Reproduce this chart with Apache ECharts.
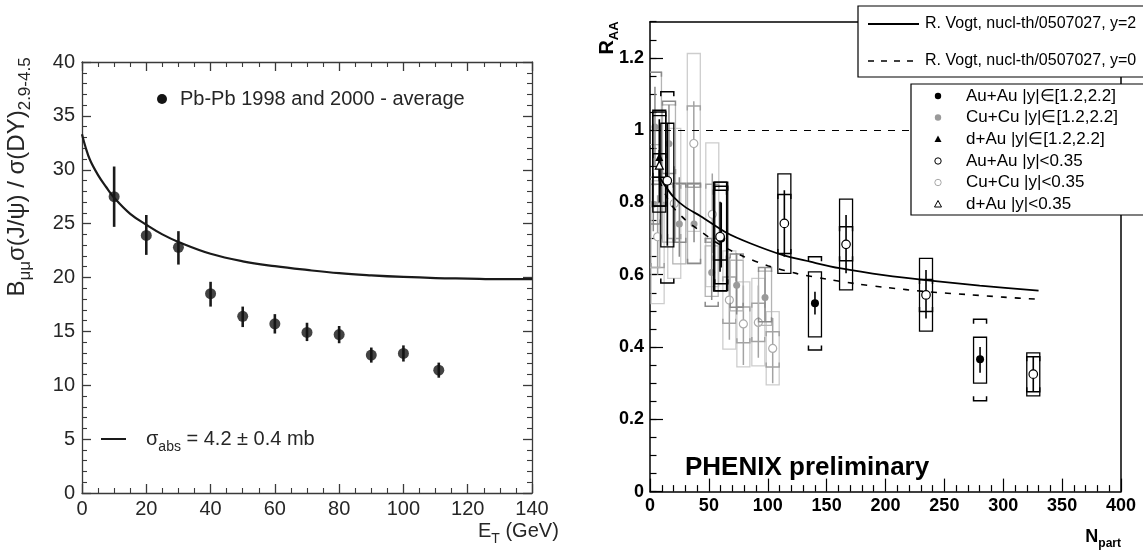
<!DOCTYPE html>
<html>
<head>
<meta charset="utf-8">
<script src="https://cdn.jsdelivr.net/npm/echarts@6/dist/echarts.min.js"></script>
<style>
  html, body { margin: 0; padding: 0; background: #fff; }
  #left { position: absolute; left: 0; top: 0; width: 570px; height: 552px; filter: blur(0.45px); }
  #right { position: absolute; left: 570px; top: 0; width: 573px; height: 552px; }
</style>
</head>
<body>
<div id="left"></div>
<div id="right"></div>
<script>
// ---------- Left panel: NA50 J/psi / Drell-Yan vs transverse energy ----------
const etBins      = [10, 20, 30, 40, 50, 60, 70, 80, 90, 100, 111];
const jpsiOverDY  = [27.5, 23.9, 22.8, 18.5, 16.4, 15.7, 14.9, 14.7, 12.8, 12.95, 11.4];
const jpsiErrLo   = [24.7, 22.1, 21.2, 17.3, 15.4, 14.8, 14.1, 13.9, 12.1, 12.2, 10.7];
const jpsiErrHi   = [30.3, 25.8, 24.3, 19.6, 17.3, 16.6, 15.8, 15.5, 13.5, 13.7, 12.1];

// nuclear absorption curve, sigma_abs = 4.2 mb
const absorptionEt  = [0, 1, 2.5, 5, 7.5, 10, 15, 20, 25, 30, 40, 50, 60, 70, 80, 90, 100, 110, 120, 130, 140];
const absorptionVal = [33.3, 32.2, 30.9, 29.5, 28.4, 27.4, 25.9, 24.9, 24.0, 23.3, 22.2, 21.5, 21.05, 20.7, 20.4, 20.2, 20.05, 19.95, 19.9, 19.85, 19.85];

// ---------- Right panel: PHENIX R_AA vs N_part ----------
// Au+Au |y| in [1.2,2.2]
const auFwdN      = [60.5, 140.1, 280.3];
const auFwdR      = [0.70, 0.521, 0.366];
const auFwdStatLo = [0.62, 0.490, 0.329];
const auFwdStatHi = [0.80, 0.553, 0.400];
const auFwdSysLo  = [0.575, 0.392, 0.251];
const auFwdSysHi  = [0.845, 0.650, 0.477];
const auFwdBoxLo  = [0.556, 0.428, 0.300];
const auFwdBoxHi  = [0.856, 0.608, 0.427];

// Au+Au |y| < 0.35
const auMidN      = [14.7, 59.5, 114.1, 166.5, 234.4, 325.5];
const auMidR      = [0.86, 0.705, 0.742, 0.684, 0.544, 0.325];
const auMidStatLo = [0.68, 0.608, 0.650, 0.604, 0.479, 0.276];
const auMidStatHi = [1.02, 0.802, 0.834, 0.765, 0.613, 0.373];
const auMidSysLo  = [0.577, 0.641, 0.659, 0.639, 0.498, 0.276];
const auMidSysHi  = [1.106, 0.834, 0.822, 0.733, 0.587, 0.373];
const auMidBoxLo  = [0.677, 0.555, 0.604, 0.558, 0.444, 0.265];
const auMidBoxHi  = [1.019, 0.856, 0.879, 0.809, 0.645, 0.384];

// Cu+Cu |y| in [1.2,2.2]
const cuFwdN      = [2.8, 4.2, 16.1, 24.9, 37.4, 52.4, 73.6, 97.7];
const cuFwdR      = [0.795, 1.009, 0.962, 0.740, 0.740, 0.606, 0.571, 0.537];
const cuFwdStatLo = [0.72, 0.90, 0.86, 0.65, 0.69, 0.53, 0.49, 0.47];
const cuFwdStatHi = [0.87, 1.12, 1.07, 0.87, 0.85, 0.70, 0.66, 0.62];
const cuFwdSysLo  = [0.74, 0.87, 0.88, 0.69, 0.632, 0.513, 0.51, 0.47];
const cuFwdSysHi  = [0.85, 1.16, 1.08, 0.853, 0.853, 0.70, 0.657, 0.62];
const cuFwdBoxLo  = [0.62, 0.79, 0.69, 0.63, 0.63, 0.54, 0.50, 0.46];
const cuFwdBoxHi  = [0.96, 1.16, 1.07, 0.85, 0.85, 0.68, 0.64, 0.61];

// Cu+Cu |y| < 0.35
const cuMidN      = [6.5, 20.6, 37.2, 52.9, 67.4, 79.3, 92.0, 104.2];
const cuMidR      = [0.705, 0.797, 0.963, 0.767, 0.530, 0.464, 0.468, 0.396];
const cuMidStatLo = [0.60, 0.69, 0.84, 0.66, 0.42, 0.35, 0.37, 0.30];
const cuMidStatHi = [0.82, 0.90, 1.08, 0.88, 0.65, 0.57, 0.57, 0.48];
const cuMidSysLo  = [0.62, 0.70, 0.842, 0.69, 0.466, 0.412, 0.415, 0.345];
const cuMidSysHi  = [0.80, 0.85, 1.067, 0.85, 0.594, 0.511, 0.521, 0.442];
const cuMidBoxLo  = [0.52, 0.59, 0.72, 0.567, 0.394, 0.345, 0.348, 0.295];
const cuMidBoxHi  = [0.86, 1.005, 1.212, 0.965, 0.666, 0.58, 0.59, 0.498];

// d+Au, forward and mid rapidity
const dauFwdN = [7.9], dauFwdR = [0.926];
const dauFwdStatLo = [0.80], dauFwdStatHi = [1.03];
const dauFwdSysLo = [0.79], dauFwdSysHi = [1.05];
const dauFwdBoxLo = [0.773], dauFwdBoxHi = [1.055];
const dauMidN = [7.9], dauMidR = [0.903];
const dauMidStatLo = [0.86], dauMidStatHi = [0.945];
const dauMidSysLo = [0.87], dauMidSysHi = [0.935];
const dauMidBoxLo = [0.79], dauMidBoxHi = [1.04];

// R. Vogt, nucl-th/0507027 predictions
const vogtY2N = [8, 12, 20, 30, 43, 65, 85, 113, 136, 161, 200, 234, 280, 330];
const vogtY2R = [0.87, 0.85, 0.815, 0.787, 0.762, 0.716, 0.687, 0.654, 0.636, 0.618, 0.598, 0.585, 0.570, 0.556];
const vogtY0N = [8, 15, 20, 30, 40, 60, 80, 100, 125, 150, 175, 200, 235, 270, 300, 330];
const vogtY0R = [0.86, 0.81, 0.785, 0.752, 0.727, 0.682, 0.650, 0.625, 0.603, 0.588, 0.575, 0.565, 0.553, 0.545, 0.538, 0.532];
const unityRAA = 1;

const xTicksLeft  = { min: 0, max: 140, step: 20 };
const yTicksLeft  = { min: 0, max: 40, step: 5 };
const xTicksRight = { min: 0, max: 400, step: 50 };
const yTicksRight = { min: 0, max: 1.3, step: 0.2, minorStep: 0.05 };

const FONT = '"Liberation Sans", Arial, Helvetica, sans-serif';

function pairs(xs, ys) { return xs.map((x, i) => [x, ys[i]]); }
function errRows(xs, ys, sLo, sHi, yLo, yHi, bLo, bHi) {
  return xs.map((x, i) => [x, ys[i], sLo[i], sHi[i], yLo[i], yHi[i], bLo[i], bHi[i]]);
}

// ================= LEFT =================
const leftInk = '#262626';
const leftAxisLine = { lineStyle: { color: '#3a3a3a', width: 1.3 } };
const leftChart = echarts.init(document.getElementById('left'));
function leftX(pos, labels) {
  return {
    type: 'value', position: pos, min: xTicksLeft.min, max: xTicksLeft.max, interval: xTicksLeft.step,
    axisLine: { show: true, onZero: false, ...leftAxisLine },
    axisTick: { show: true, inside: true, length: 9, lineStyle: { color: '#3a3a3a', width: 1.3 } },
    minorTick: { show: true, splitNumber: 4, length: 5, lineStyle: { color: '#3a3a3a', width: 1.1 } },
    axisLabel: { show: labels, fontSize: 20, color: leftInk, margin: 6, fontFamily: FONT },
    splitLine: { show: false }
  };
}
function leftY(pos, labels) {
  return {
    type: 'value', position: pos, min: yTicksLeft.min, max: yTicksLeft.max, interval: yTicksLeft.step,
    axisLine: { show: true, onZero: false, ...leftAxisLine },
    axisTick: { show: true, inside: true, length: 9, lineStyle: { color: '#3a3a3a', width: 1.3 } },
    minorTick: { show: true, splitNumber: 5, length: 5, lineStyle: { color: '#3a3a3a', width: 1.1 } },
    axisLabel: { show: labels, fontSize: 20, color: leftInk, margin: 7, fontFamily: FONT },
    splitLine: { show: false }
  };
}
const subRich = (size, subSize, lh) => ({
  n: { fontSize: size, fontFamily: FONT, lineHeight: lh, fill: leftInk },
  s: { fontSize: subSize, fontFamily: FONT, lineHeight: subSize, verticalAlign: 'bottom', fill: leftInk }
});
leftChart.setOption({
  animation: false,
  grid: { left: 82, top: 62, width: 450, height: 431 },
  xAxis: [leftX('bottom', true), leftX('top', false)],
  yAxis: [leftY('left', true), leftY('right', false)],
  series: [
    {
      type: 'line', data: pairs(absorptionEt, absorptionVal), smooth: 0.4, showSymbol: false,
      lineStyle: { color: '#1a1a1a', width: 2.2 }, silent: true, z: 3
    },
    {
      type: 'custom', silent: true, z: 4,
      data: etBins.map((x, i) => [x, jpsiOverDY[i], jpsiErrLo[i], jpsiErrHi[i]]),
      renderItem: function (params, api) {
        const x = api.value(0);
        const lo = api.coord([x, api.value(2)]);
        const hi = api.coord([x, api.value(3)]);
        return { type: 'line', shape: { x1: lo[0], y1: lo[1], x2: hi[0], y2: hi[1] },
                 style: { stroke: '#1a1a1a', lineWidth: 2.6 } };
      }
    },
    {
      type: 'scatter', data: pairs(etBins, jpsiOverDY), symbol: 'circle', symbolSize: 11,
      itemStyle: { color: '#141414' }, silent: true, z: 5
    }
  ],
  graphic: [
    { type: 'circle', shape: { cx: 162, cy: 99, r: 5 }, style: { fill: '#141414' } },
    { type: 'text', x: 180, y: 99, style: { text: 'Pb-Pb 1998 and 2000 - average', font: '20px ' + FONT,
      fill: leftInk, verticalAlign: 'middle' } },
    { type: 'line', shape: { x1: 101, y1: 439, x2: 126, y2: 439 }, style: { stroke: '#1a1a1a', lineWidth: 2 } },
    { type: 'text', x: 146, y: 439, style: {
      text: '{n|σ}{s|abs}{n| = 4.2 ± 0.4 mb}', verticalAlign: 'middle', fill: leftInk, rich: subRich(20, 14, 30) } },
    { type: 'text', x: 17, y: 177, rotation: Math.PI / 2, style: {
      text: '{n|B}{s|μμ}{n|σ(J/ψ) / σ(DY)}{s|2.9-4.5}', align: 'center', verticalAlign: 'middle', fill: leftInk,
      rich: subRich(24, 17, 34) } },
    { type: 'text', x: 478, y: 531, style: {
      text: '{n|E}{s|T}{n| (GeV)}', verticalAlign: 'middle', fill: leftInk, rich: subRich(20, 14, 30) } }
  ]
});

// ================= RIGHT =================
const rightChart = echarts.init(document.getElementById('right'));
const boldLabel = { fontSize: 18, fontWeight: 'bold', color: '#000', fontFamily: FONT };

const ERR_STYLE = {
  cuMid: { box: '#cdcdcd', boxW: 1.3, br: '#a3a3a3', brW: 1.5, stat: '#a3a3a3', statW: 1.5 },
  cuFwd: { box: '#b4b4b4', boxW: 1.3, br: '#8a8a8a', brW: 1.5, stat: '#8a8a8a', statW: 1.5 },
  black: { box: '#000000', boxW: 1.3, br: '#000000', brW: 1.5, stat: '#000000', statW: 1.6 }
};
const BOX_HALF = 6.5, BR_HALF = 6.5, BR_TICK = 4.5;

function errSeries(rows, st, z) {
  return {
    type: 'custom', silent: true, z: z, clip: true, data: rows,
    renderItem: function (params, api) {
      const x = api.value(0);
      const c = api.coord([x, api.value(1)]);
      const y = (k) => api.coord([x, api.value(k)])[1];
      const sLo = y(2), sHi = y(3), bLo = y(4), bHi = y(5), xLo = y(6), xHi = y(7);
      const cx = c[0];
      return {
        type: 'group',
        children: [
          { type: 'rect', shape: { x: cx - BOX_HALF, y: xHi, width: 2 * BOX_HALF, height: xLo - xHi },
            style: { fill: 'none', stroke: st.box, lineWidth: st.boxW } },
          { type: 'polyline', shape: { points: [[cx - BR_HALF, bHi + BR_TICK], [cx - BR_HALF, bHi], [cx + BR_HALF, bHi], [cx + BR_HALF, bHi + BR_TICK]] },
            style: { fill: null, stroke: st.br, lineWidth: st.brW } },
          { type: 'polyline', shape: { points: [[cx - BR_HALF, bLo - BR_TICK], [cx - BR_HALF, bLo], [cx + BR_HALF, bLo], [cx + BR_HALF, bLo - BR_TICK]] },
            style: { fill: null, stroke: st.br, lineWidth: st.brW } },
          { type: 'line', shape: { x1: cx, y1: sHi, x2: cx, y2: sLo },
            style: { stroke: st.stat, lineWidth: st.statW } }
        ]
      };
    }
  };
}
function markerSeries(xs, ys, symbol, size, fill, stroke, z) {
  return { type: 'scatter', data: pairs(xs, ys), symbol: symbol, symbolSize: size, silent: true, z: z,
           itemStyle: { color: fill, borderColor: stroke, borderWidth: stroke ? 1.2 : 0, opacity: 1 } };
}

const frameLine = { show: true, onZero: false, lineStyle: { color: '#000', width: 1.5 } };
const legendFont = '16px ' + FONT;
const legendFont2 = '17px ' + FONT;
rightChart.setOption({
  animation: false,
  grid: { left: 80, top: 21.7, width: 471, height: 469.9 },
  xAxis: [
    { type: 'value', position: 'bottom', min: xTicksRight.min, max: xTicksRight.max, interval: xTicksRight.step,
      axisLine: frameLine,
      axisTick: { show: true, inside: true, length: 13, lineStyle: { color: '#000', width: 1.2 } },
      minorTick: { show: true, splitNumber: 5, length: 6.5, lineStyle: { color: '#000', width: 1.2 } },
      axisLabel: { ...boldLabel, margin: 5 }, splitLine: { show: false } },
    { type: 'value', position: 'top', min: xTicksRight.min, max: xTicksRight.max,
      axisLine: frameLine, axisTick: { show: false }, axisLabel: { show: false }, splitLine: { show: false } }
  ],
  yAxis: [
    { type: 'value', position: 'left', min: yTicksRight.min, max: yTicksRight.max, interval: yTicksRight.step,
      axisLine: frameLine,
      axisTick: { show: true, inside: true, length: 13, lineStyle: { color: '#000', width: 1.2 } },
      axisLabel: { ...boldLabel, margin: 6, showMaxLabel: false,
                   formatter: (v) => (v > 1.25 ? '' : String(Math.round(v * 10) / 10)) },
      splitLine: { show: false } },
    { type: 'value', position: 'left', min: yTicksRight.min, max: yTicksRight.max, interval: yTicksRight.minorStep,
      axisLine: { show: false },
      axisTick: { show: true, inside: true, length: 6.5, lineStyle: { color: '#000', width: 1.2 } },
      axisLabel: { show: false }, splitLine: { show: false } },
    { type: 'value', position: 'right', min: yTicksRight.min, max: yTicksRight.max,
      axisLine: frameLine, axisTick: { show: false }, axisLabel: { show: false }, splitLine: { show: false } }
  ],
  series: [
    // unity reference
    { type: 'line', data: [], silent: true, z: 1,
      markLine: { silent: true, symbol: 'none', label: { show: false },
                  lineStyle: { color: '#000', width: 1.2, type: [7, 7] }, data: [{ yAxis: unityRAA }] } },
    errSeries(errRows(cuMidN, cuMidR, cuMidStatLo, cuMidStatHi, cuMidSysLo, cuMidSysHi, cuMidBoxLo, cuMidBoxHi), ERR_STYLE.cuMid, 2),
    markerSeries(cuMidN, cuMidR, 'circle', 8, '#ffffff', '#ababab', 3),
    errSeries(errRows(cuFwdN, cuFwdR, cuFwdStatLo, cuFwdStatHi, cuFwdSysLo, cuFwdSysHi, cuFwdBoxLo, cuFwdBoxHi), ERR_STYLE.cuFwd, 4),
    markerSeries(cuFwdN, cuFwdR, 'circle', 7, '#9a9a9a', null, 5),
    errSeries(errRows(auFwdN, auFwdR, auFwdStatLo, auFwdStatHi, auFwdSysLo, auFwdSysHi, auFwdBoxLo, auFwdBoxHi), ERR_STYLE.black, 6),
    errSeries(errRows(auMidN, auMidR, auMidStatLo, auMidStatHi, auMidSysLo, auMidSysHi, auMidBoxLo, auMidBoxHi), ERR_STYLE.black, 6),
    errSeries(errRows(dauFwdN, dauFwdR, dauFwdStatLo, dauFwdStatHi, dauFwdSysLo, dauFwdSysHi, dauFwdBoxLo, dauFwdBoxHi), ERR_STYLE.black, 6),
    errSeries(errRows(dauMidN, dauMidR, dauMidStatLo, dauMidStatHi, dauMidSysLo, dauMidSysHi, dauMidBoxLo, dauMidBoxHi), ERR_STYLE.black, 6),
    { type: 'line', data: pairs(vogtY2N, vogtY2R), smooth: 0.3, showSymbol: false, silent: true, z: 7,
      lineStyle: { color: '#000', width: 1.8 } },
    { type: 'line', data: pairs(vogtY0N, vogtY0R), smooth: 0.3, showSymbol: false, silent: true, z: 7,
      lineStyle: { color: '#000', width: 1.6, type: [6, 8] } },
    markerSeries(auFwdN, auFwdR, 'circle', 8, '#000000', null, 8),
    markerSeries(auMidN, auMidR, 'circle', 8.5, '#ffffff', '#000000', 9),
    markerSeries(dauFwdN, dauFwdR, 'triangle', 8, '#000000', null, 9),
    markerSeries(dauMidN, dauMidR, 'triangle', 8, '#ffffff', '#000000', 10)
  ],
  graphic: [
    // theory legend
    { type: 'rect', z: 100, shape: { x: 288, y: 6, width: 300, height: 71 },
      style: { fill: '#fff', stroke: '#000', lineWidth: 1.2 } },
    { type: 'line', z: 101, shape: { x1: 298, y1: 24, x2: 349, y2: 24 }, style: { stroke: '#000', lineWidth: 1.8 } },
    { type: 'line', z: 101, shape: { x1: 298, y1: 61, x2: 349, y2: 61 }, style: { stroke: '#000', lineWidth: 1.5, lineDash: [6, 7] } },
    { type: 'text', z: 101, x: 355, y: 24, style: { text: 'R. Vogt, nucl-th/0507027, y=2', font: legendFont, fill: '#000', verticalAlign: 'middle' } },
    { type: 'text', z: 101, x: 355, y: 61, style: { text: 'R. Vogt, nucl-th/0507027, y=0', font: legendFont, fill: '#000', verticalAlign: 'middle' } },
    // data legend
    { type: 'rect', z: 100, shape: { x: 341, y: 84, width: 250, height: 131 },
      style: { fill: '#fff', stroke: '#000', lineWidth: 1.2 } },
    { type: 'circle', z: 101, shape: { cx: 368, cy: 96, r: 3.2 }, style: { fill: '#000' } },
    { type: 'circle', z: 101, shape: { cx: 368, cy: 117.5, r: 3.2 }, style: { fill: '#9a9a9a' } },
    { type: 'polygon', z: 101, shape: { points: [[368, 135.5], [364.5, 142], [371.5, 142]] }, style: { fill: '#000' } },
    { type: 'circle', z: 101, shape: { cx: 368, cy: 161, r: 3.2 }, style: { fill: '#fff', stroke: '#000', lineWidth: 1 } },
    { type: 'circle', z: 101, shape: { cx: 368, cy: 182.5, r: 3.2 }, style: { fill: '#fff', stroke: '#a8a8a8', lineWidth: 1 } },
    { type: 'polygon', z: 101, shape: { points: [[368, 200.5], [364.5, 207], [371.5, 207]] }, style: { fill: '#fff', stroke: '#000', lineWidth: 1 } },
    { type: 'text', z: 101, x: 396, y: 96, style: { text: 'Au+Au |y|∈[1.2,2.2]', font: legendFont2, fill: '#000', verticalAlign: 'middle' } },
    { type: 'text', z: 101, x: 396, y: 117.5, style: { text: 'Cu+Cu |y|∈[1.2,2.2]', font: legendFont2, fill: '#000', verticalAlign: 'middle' } },
    { type: 'text', z: 101, x: 396, y: 139, style: { text: 'd+Au |y|∈[1.2,2.2]', font: legendFont2, fill: '#000', verticalAlign: 'middle' } },
    { type: 'text', z: 101, x: 396, y: 161, style: { text: 'Au+Au |y|<0.35', font: legendFont2, fill: '#000', verticalAlign: 'middle' } },
    { type: 'text', z: 101, x: 396, y: 182.5, style: { text: 'Cu+Cu |y|<0.35', font: legendFont2, fill: '#000', verticalAlign: 'middle' } },
    { type: 'text', z: 101, x: 396, y: 204, style: { text: 'd+Au |y|<0.35', font: legendFont2, fill: '#000', verticalAlign: 'middle' } },
    // annotations and axis titles
    { type: 'text', z: 50, x: 115, y: 468, style: { text: 'PHENIX preliminary', font: 'bold 26px ' + FONT, fill: '#000', verticalAlign: 'middle' } },
    { type: 'text', z: 50, x: 37, y: 38, rotation: Math.PI / 2, style: {
      text: '{n|R}{s|AA}', align: 'center', verticalAlign: 'middle', fill: '#000',
      rich: { n: { fontSize: 20, fontWeight: 'bold', fontFamily: FONT, lineHeight: 28, fill: '#000' },
              s: { fontSize: 13, fontWeight: 'bold', fontFamily: FONT, lineHeight: 13, verticalAlign: 'bottom', fill: '#000' } } } },
    { type: 'text', z: 50, x: 551, y: 537, style: {
      text: '{n|N}{s|part}', align: 'right', verticalAlign: 'middle', fill: '#000',
      rich: { n: { fontSize: 18, fontWeight: 'bold', fontFamily: FONT, lineHeight: 26, fill: '#000' },
              s: { fontSize: 12, fontWeight: 'bold', fontFamily: FONT, lineHeight: 12, verticalAlign: 'bottom', fill: '#000' } } } }
  ]
});
</script>
</body>
</html>
